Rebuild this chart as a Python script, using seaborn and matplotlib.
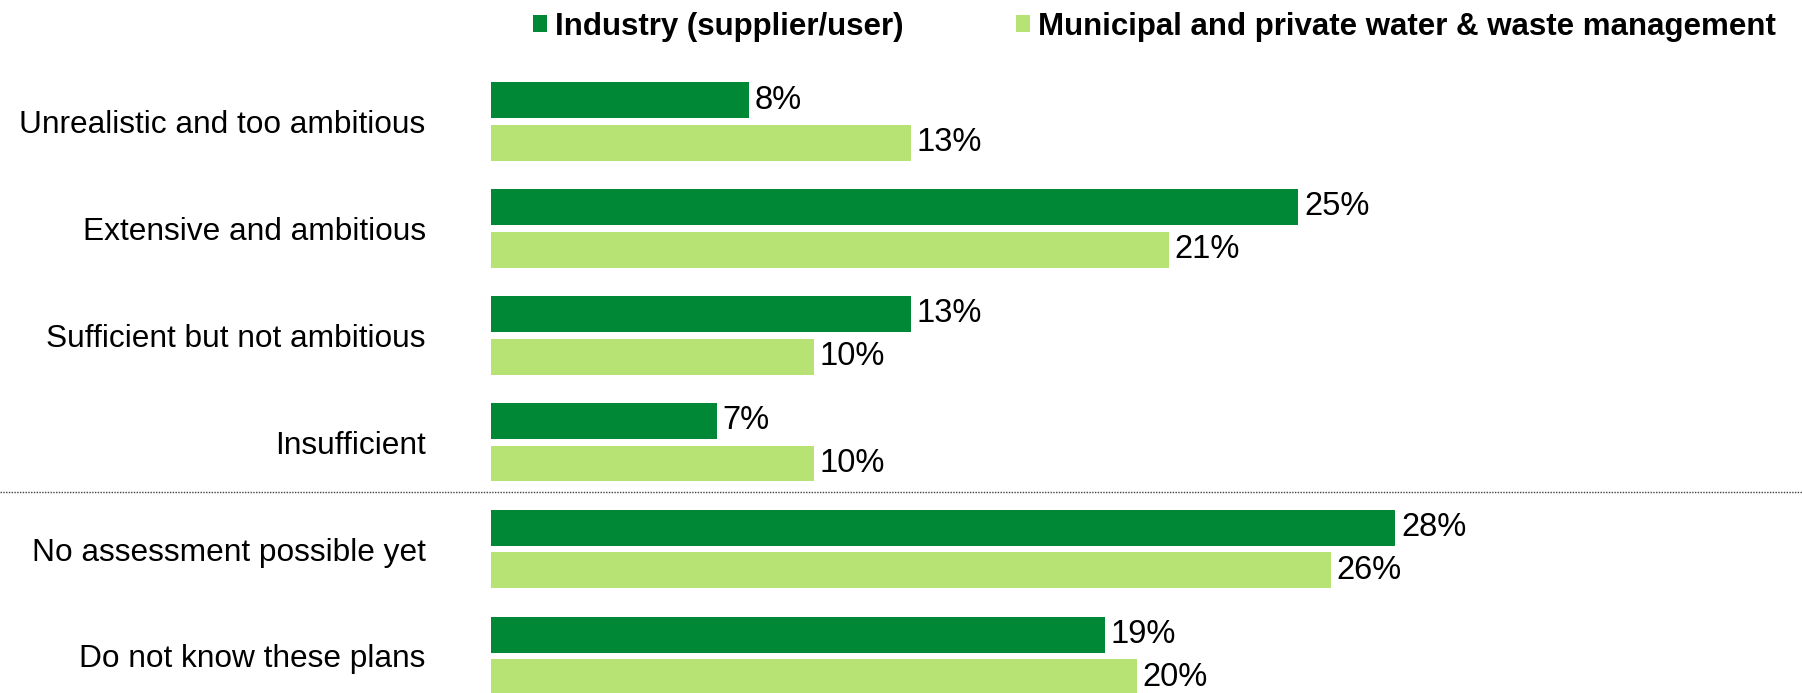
import seaborn as sns
import matplotlib.pyplot as plt
import matplotlib.transforms as mtransforms
import pandas as pd

# data
categories = [
    "Unrealistic and too ambitious",
    "Extensive and ambitious",
    "Sufficient but not ambitious",
    "Insufficient",
    "No assessment possible yet",
    "Do not know these plans",
]
series = ["Industry (supplier/user)", "Municipal and private water & waste management"]
industry = [8, 25, 13, 7, 28, 19]
municipal = [13, 21, 10, 10, 26, 20]
colors = ["#008837", "#B7E375"]

df = pd.DataFrame({
    "category": categories * 2,
    "group": [series[0]] * len(categories) + [series[1]] * len(categories),
    "value": industry + municipal,
})

sns.set_theme(style="white")
plt.rcParams["font.family"] = ["Liberation Sans", "DejaVu Sans"]

W, H = 1802, 693
fig = plt.figure(figsize=(W / 100, H / 100), dpi=100)
ax_left = 491 / W
ax_top = 68 / H
ax = fig.add_axes([ax_left, 0, 1 - ax_left, 1 - ax_top])

sns.barplot(data=df, y="category", x="value", hue="group", order=categories,
            hue_order=series, palette=colors, orient="h", width=0.8, gap=0.16,
            linewidth=0, saturation=1, ax=ax)

# 32.3 px per percentage point
ax.set_xlim(0, (W - 491) / 32.3)
pitch = 106.9
ax.set_ylim((H - 68) / pitch - 0.5, -0.5)

for cont in ax.containers:
    ax.bar_label(cont, labels=[f"{int(v)}%" for v in cont.datavalues],
                 padding=4, fontsize=23.5, color="black")

ax.set_xlabel("")
ax.set_ylabel("")
ax.set_xticks([])
ax.tick_params(axis="y", length=0, pad=47, labelsize=22.8, labelcolor="black")
sns.despine(ax=ax, left=True, bottom=True, top=True, right=True)

# dotted separator across the whole figure
trans = mtransforms.blended_transform_factory(fig.transFigure, ax.transData)
ax.plot([0, 1], [3.47, 3.47], transform=trans, clip_on=False,
        color="#404040", lw=1, linestyle=(0, (1, 1)))

handles, labels = ax.get_legend_handles_labels()
ax.legend_.remove()
fig.legend(handles, labels, loc="center right", bbox_to_anchor=(1776 / W, 1 - 27 / H),
           ncol=2, frameon=False, prop={"weight": "bold", "size": 22.5},
           labelcolor="black",
           handlelength=0.45, handleheight=0.45, handletextpad=0.25,
           columnspacing=3.6, borderaxespad=0, borderpad=0)

fig.savefig("out.png", dpi=100)
